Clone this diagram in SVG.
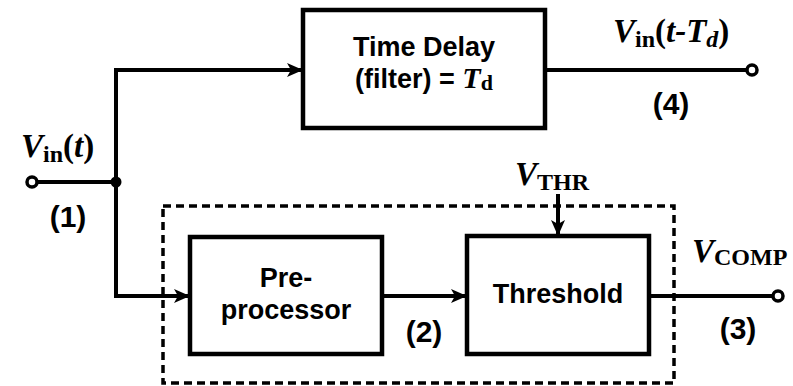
<svg xmlns="http://www.w3.org/2000/svg" width="793" height="386" viewBox="0 0 793 386">
<style>
.box{fill:#fff;stroke:#000;stroke-width:4.5}
.ln{fill:none;stroke:#000;stroke-width:4}
.dash{fill:none;stroke:#000;stroke-width:3.5;stroke-dasharray:8 5}
.term{fill:#fff;stroke:#000;stroke-width:3.5}
.lbl{font-family:"Liberation Sans",Arial,sans-serif;font-weight:bold;font-size:27px;fill:#000;text-anchor:middle}
.num{font-family:"Liberation Sans",Arial,sans-serif;font-weight:bold;font-size:30px;fill:#000;text-anchor:middle}
.math{font-family:"Liberation Serif","Times New Roman",serif;font-weight:bold;font-size:33px;fill:#000}
.it{font-style:italic}
.sub{font-size:24px;font-style:normal}
</style>
<defs>
<marker id="ah" markerUnits="userSpaceOnUse" markerWidth="18" markerHeight="16" refX="16" refY="8" orient="auto">
<path d="M0,1 L16,8 L0,15 L4,8 Z" fill="#000"/>
</marker>
</defs>
<rect id="dashed-box" class="dash" x="163" y="206" width="511" height="177"/>
<g id="connectors">
<line class="ln" x1="37" y1="182" x2="116" y2="182"/>
<polyline class="ln" points="122,70 116,70 116,296 122,296"/>
<line class="ln" x1="116" y1="70" x2="303" y2="70" marker-end="url(#ah)"/>
<line class="ln" x1="116" y1="296" x2="190" y2="296" marker-end="url(#ah)"/>
<line class="ln" x1="382" y1="296" x2="467" y2="296" marker-end="url(#ah)"/>
<line class="ln" x1="649" y1="296" x2="773" y2="296"/>
<line class="ln" x1="545" y1="70" x2="747" y2="70"/>
<line class="ln" x1="558" y1="194" x2="558" y2="236" marker-end="url(#ah)"/>
<circle cx="116" cy="182" r="5.5" fill="#000"/>
</g>
<g id="in-terminal">
<circle class="term" cx="32" cy="182" r="5"/>
<text class="math" x="21" y="157"><tspan class="it">V</tspan><tspan class="sub" dy="5">in</tspan><tspan dy="-5">(</tspan><tspan class="it">t</tspan>)</text>
<text class="num" x="68" y="227">(1)</text>
</g>
<g id="time-delay">
<rect class="box" x="303" y="10" width="242" height="118"/>
<text class="lbl" x="424" y="56">Time Delay</text>
<text class="lbl" x="424" y="88">(filter) = <tspan class="math it" style="font-size:30px">T</tspan><tspan class="math sub" style="font-size:22px" dy="2">d</tspan></text>
</g>
<g id="out-delay">
<circle class="term" cx="752" cy="70" r="5"/>
<text class="math" x="613" y="42"><tspan class="it">V</tspan><tspan class="sub" dy="5">in</tspan><tspan dy="-5">(</tspan><tspan class="it">t-T</tspan><tspan class="sub" style="font-style:italic" dy="5">d</tspan><tspan dy="-5">)</tspan></text>
<text class="num" x="671" y="114">(4)</text>
</g>
<g id="preprocessor">
<rect class="box" x="190" y="237" width="192" height="117"/>
<text class="lbl" x="286" y="287">Pre-</text>
<text class="lbl" x="286" y="319">processor</text>
</g>
<text class="num" x="424" y="342">(2)</text>
<g id="threshold">
<rect class="box" x="467" y="236" width="182" height="118"/>
<text class="lbl" x="558" y="303">Threshold</text>
</g>
<g id="vthr">
<text class="math" x="515" y="185"><tspan class="it">V</tspan><tspan class="sub" dy="5">THR</tspan></text>
</g>
<g id="out-comp">
<circle class="term" cx="778" cy="296" r="5"/>
<text class="math" x="692" y="262"><tspan class="it">V</tspan><tspan class="sub" dy="3">COMP</tspan></text>
<text class="num" x="738" y="339">(3)</text>
</g>
</svg>
